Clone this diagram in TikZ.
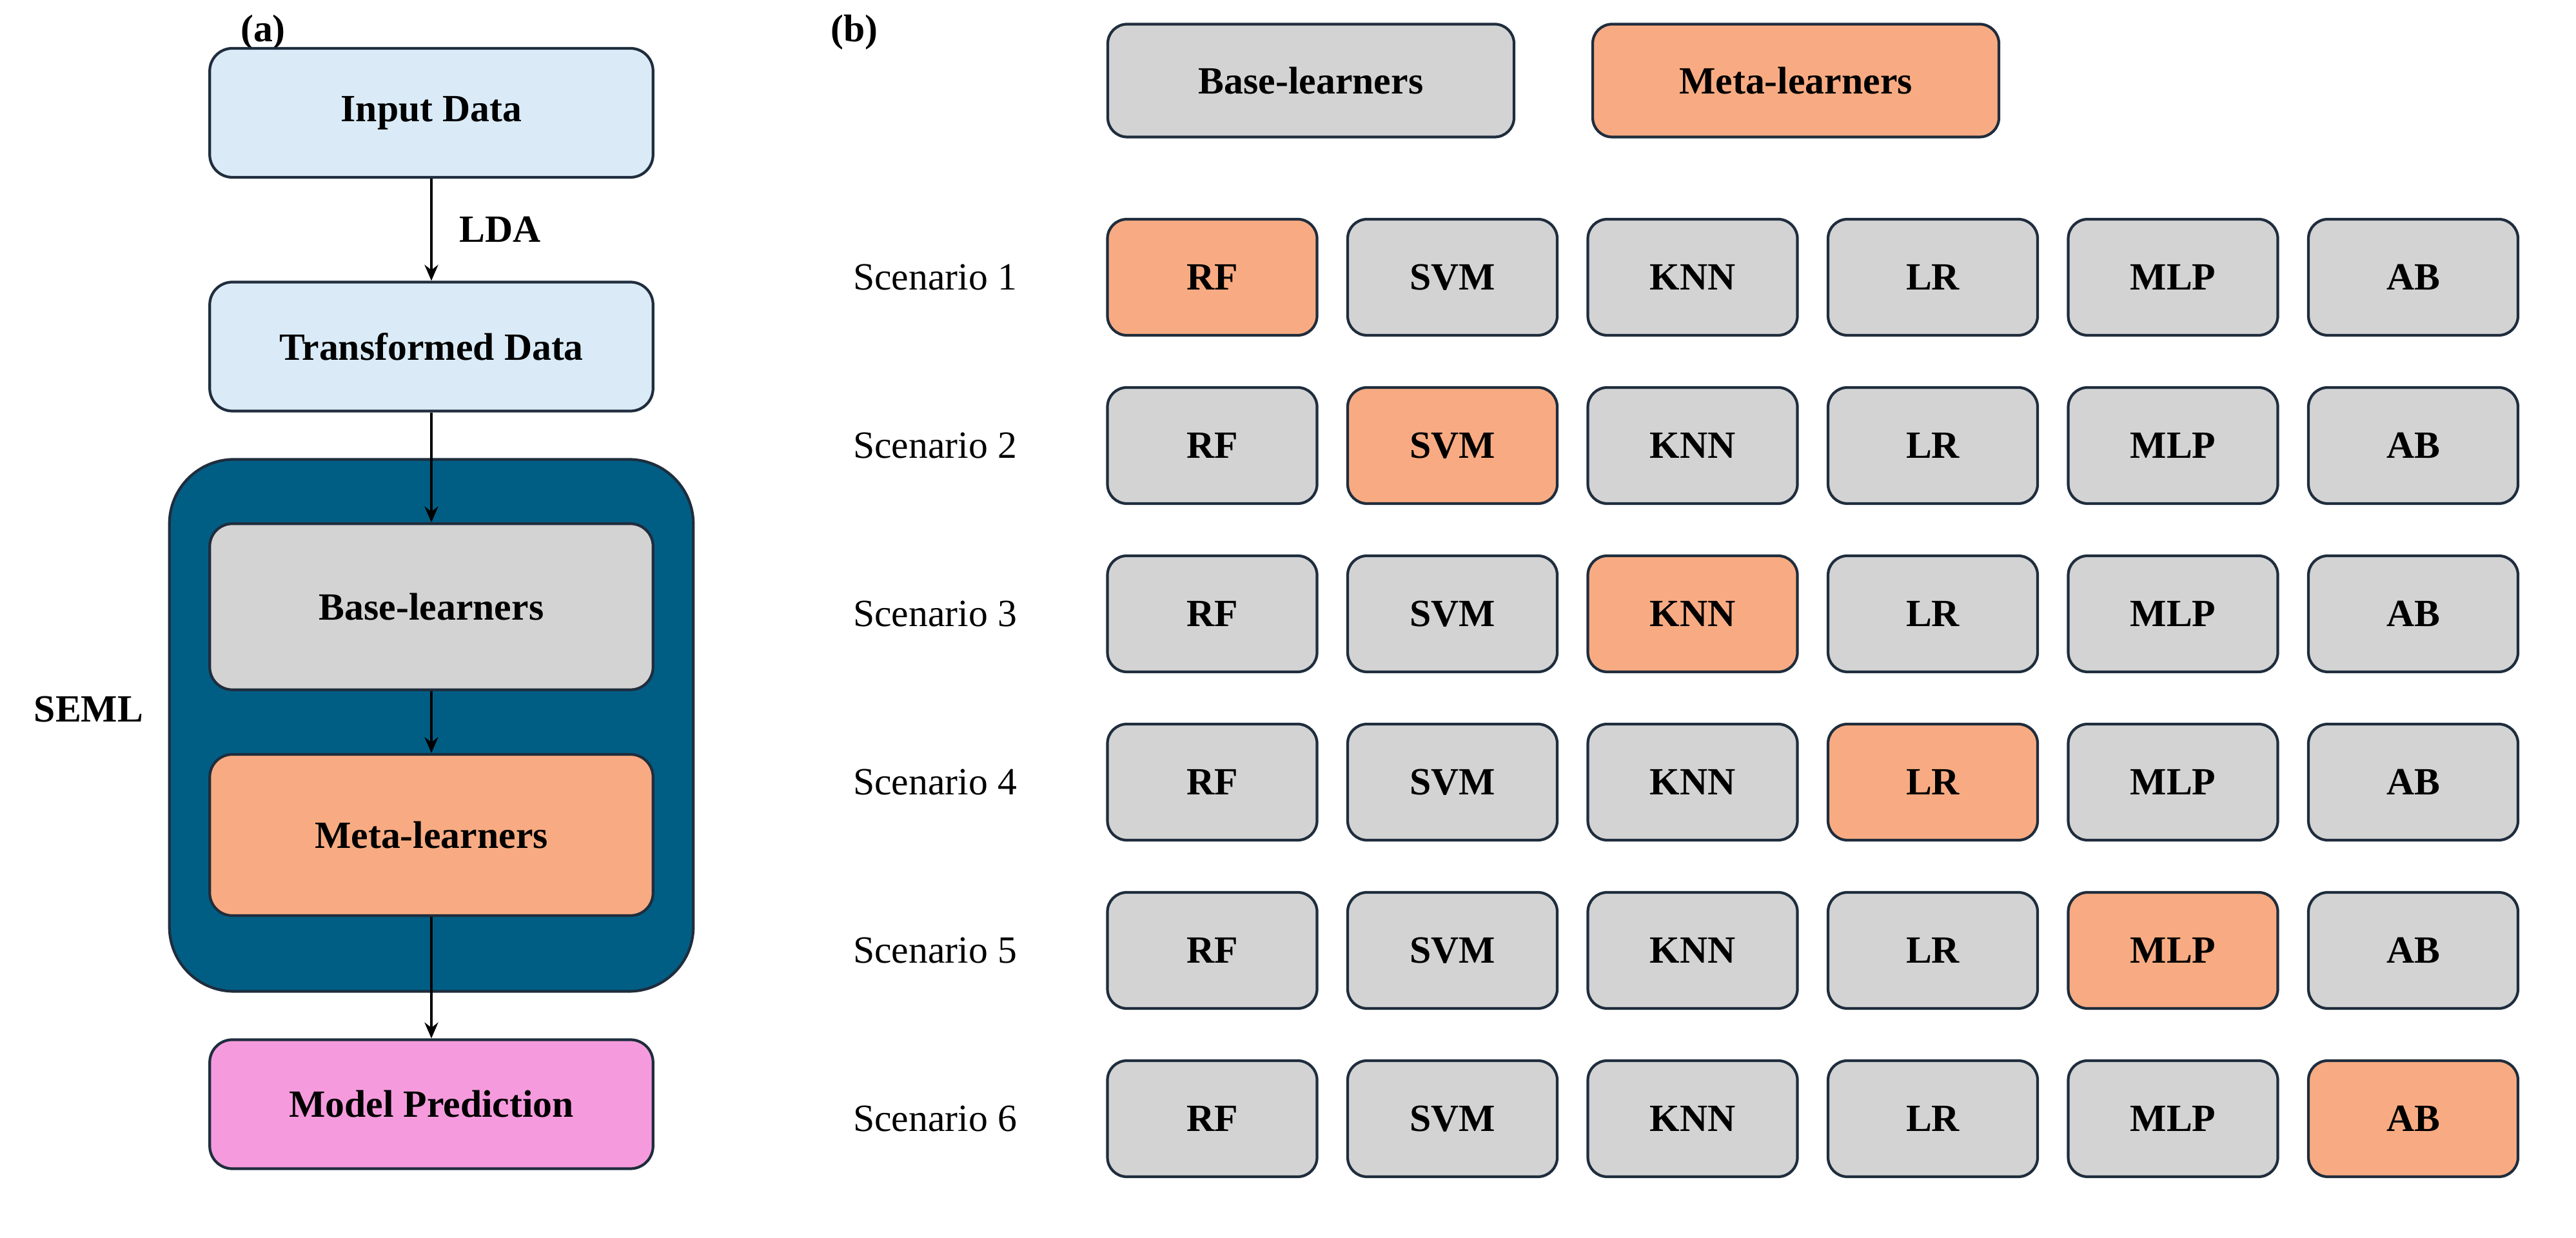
\documentclass[tikz,border=0pt]{standalone}
\usepackage{fontspec}
\setmainfont{Liberation Serif}
\usetikzlibrary{positioning,arrows.meta}
\definecolor{edgec}{HTML}{1F2D3D}
\definecolor{greyc}{HTML}{D3D3D3}
\definecolor{orangec}{HTML}{F8AB82}
\definecolor{bluec}{HTML}{DAEBF7}
\definecolor{tealc}{HTML}{005E85}
\definecolor{pinkc}{HTML}{F59BDD}
\begin{document}
\begin{tikzpicture}[
    font=\fontsize{17}{20}\selectfont,
    box/.style={draw=edgec,line width=1.2pt,rounded corners=0.35cm,font=\fontsize{17}{20}\selectfont\bfseries,minimum width=6.875cm,minimum height=2cm},
    cell/.style={draw=edgec,line width=1.2pt,rounded corners=0.3cm,font=\fontsize{17}{20}\selectfont\bfseries,minimum width=3.25cm,minimum height=1.8cm},
    line/.style={line width=1pt,-{Stealth[length=7pt,width=6pt]}}
]
\useasboundingbox (0,0) rectangle (39.95,19.2);

% (a) pipeline
\node[font=\fontsize{17}{20}\selectfont\bfseries] (la) at (4.08,18.7) {(a)};
\node[box,fill=bluec] (input) at (6.69,17.45) {Input Data};
\node[box,fill=bluec] (trans) at (6.69,13.825) {Transformed Data};
\node[draw=edgec,line width=1.2pt,fill=tealc,rounded corners=1cm,minimum width=8.125cm,minimum height=8.25cm] (seml) at (6.69,7.95) {};
\node[box,fill=greyc,minimum height=2.575cm] (base) at (6.69,9.79) {Base-learners};
\node[box,fill=orangec,minimum height=2.5cm] (meta) at (6.69,6.25) {Meta-learners};
\node[box,fill=pinkc] (pred) at (6.69,2.075) {Model Prediction};
\node[font=\fontsize{17}{20}\selectfont\bfseries] (semllab) at (1.375,8.2) {SEML};

\draw[line] (input) -- node[right=0.3cm,font=\fontsize{17}{20}\selectfont\bfseries] {LDA} (trans);
\draw[line] (trans) -- (base);
\draw[line] (base) -- (meta);
\draw[line] (meta) -- (pred);

% (b) scenarios
\node[font=\fontsize{17}{20}\selectfont\bfseries] (lb) at (13.25,18.7) {(b)};
\node[cell,fill=greyc,minimum width=6.3cm,minimum height=1.75cm] (legbase) at (20.33,17.95) {Base-learners};
\node[cell,fill=orangec,minimum width=6.3cm,minimum height=1.75cm] (legmeta) at (27.85,17.95) {Meta-learners};

\foreach \j in {1,...,6} {
  \node (sc\j) at (14.5,{14.9-2.61*(\j-1)}) {Scenario \j};
  \foreach \name [count=\i] in {RF,SVM,KNN,LR,MLP,AB} {
    \ifnum\i=\j
      \node[cell,fill=orangec] (c\j\i) at ({18.8+3.725*(\i-1)},{14.9-2.61*(\j-1)}) {\name};
    \else
      \node[cell,fill=greyc] (c\j\i) at ({18.8+3.725*(\i-1)},{14.9-2.61*(\j-1)}) {\name};
    \fi
  }
}
\end{tikzpicture}
\end{document}
